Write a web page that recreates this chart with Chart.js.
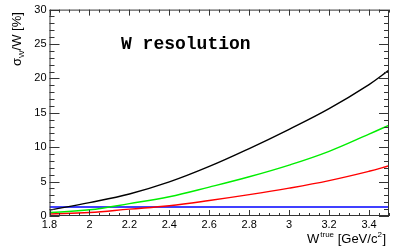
<!DOCTYPE html>
<html>
<head>
<meta charset="utf-8">
<script src="https://cdn.jsdelivr.net/npm/chart.js@4"></script>
<style>
  html, body { margin: 0; padding: 0; background: #fff; }
  #box { width: 405px; height: 249px; }
</style>
</head>
<body>
<div id="box"><canvas id="myChart"></canvas></div>
<script>
// W true values (GeV/c^2)
var wTrue   = [1.8, 2.0, 2.2, 2.4, 2.6, 2.8, 3.0, 3.2, 3.4, 3.5];
// resolution curves [%]
var black   = [0.85, 1.95, 3.2, 4.95, 7.2, 9.8, 12.6, 15.6, 19.1, 21.2];
var green   = [0.5, 0.9, 1.8, 2.8, 4.2, 5.7, 7.4, 9.4, 11.9, 13.2];
var red     = [0.3, 0.5, 1.0, 1.5, 2.25, 3.1, 4.05, 5.15, 6.5, 7.3];
var blue    = [1.3, 1.3];
var blueX   = [1.8, 3.5];

var xTicks  = [1.8, 2.0, 2.2, 2.4, 2.6, 2.8, 3.0, 3.2, 3.4];
var yTicks  = [0, 5, 10, 15, 20, 25, 30];

function pts(xs, ys) {
    var out = [];
    for (var i = 0; i < xs.length; i++) {
        out.push({ x: xs[i], y: ys[i] });
    }
    return out;
}

function line(label, xs, ys, color) {
    return {
        label: label,
        data: pts(xs, ys),
        borderColor: color,
        borderWidth: 1.4,
        pointRadius: 0,
        fill: false,
        tension: 0.4
    };
}

// ROOT-like frame: inward major/minor ticks on all 4 sides + text
var rootFrame = {
    id: 'rootFrame',
    afterDatasetsDraw: function (chart) {
        var ctx = chart.ctx;
        var a = chart.chartArea;
        var xs = chart.scales.x, ys = chart.scales.y;
        ctx.save();
        ctx.strokeStyle = '#333';
        ctx.lineWidth = 1;
        ctx.strokeRect(a.left + 0.5, a.top + 0.5, a.right - a.left - 1, a.bottom - a.top - 1);

        ctx.beginPath();
        // x ticks every 0.05, major every 0.2
        for (var i = 0; i <= 34; i++) {
            var v = 1.8 + i * 0.05;
            var px = Math.round(xs.getPixelForValue(v)) + 0.5;
            var len = (i % 4 === 0) ? 6 : 3;
            ctx.moveTo(px, a.bottom); ctx.lineTo(px, a.bottom - len);
            ctx.moveTo(px, a.top); ctx.lineTo(px, a.top + len);
        }
        // y ticks every 1, major every 5
        for (var j = 0; j <= 30; j++) {
            var py = Math.round(ys.getPixelForValue(j)) + 0.5;
            var l2 = (j % 5 === 0) ? 10 : 5;
            ctx.moveTo(a.left, py); ctx.lineTo(a.left + l2, py);
            ctx.moveTo(a.right, py); ctx.lineTo(a.right - l2, py);
        }
        ctx.stroke();

        // label inside the plot
        ctx.fillStyle = '#000';
        ctx.font = 'bold 18px "Liberation Mono", "DejaVu Sans Mono", monospace';
        ctx.textBaseline = 'alphabetic';
        ctx.fillText('W resolution', 121, 49);

        // x title: W^true [GeV/c^2], right aligned
        ctx.font = '13px "Liberation Sans", Arial, sans-serif';
        var x0 = 307, yb = 243;
        ctx.fillText('W', x0, yb);
        var w = ctx.measureText('W').width;
        ctx.font = '8px "Liberation Sans", Arial, sans-serif';
        ctx.fillText('true', x0 + w + 1, yb - 6);
        var w2 = ctx.measureText('true').width;
        ctx.font = '13px "Liberation Sans", Arial, sans-serif';
        var t = ' [GeV/c';
        ctx.fillText(t, x0 + w + w2 + 1, yb);
        var w3 = ctx.measureText(t).width;
        ctx.font = '8px "Liberation Sans", Arial, sans-serif';
        ctx.fillText('2', x0 + w + w2 + w3 + 1, yb - 6);
        ctx.font = '13px "Liberation Sans", Arial, sans-serif';
        ctx.fillText(']', x0 + w + w2 + w3 + 6, yb);

        // y title: sigma_W/W [%], rotated, top aligned
        ctx.translate(21, 66);
        ctx.rotate(-Math.PI / 2);
        ctx.font = '13px "Liberation Sans", Arial, sans-serif';
        ctx.fillText('\u03c3', 0, 0);
        var s1 = ctx.measureText('\u03c3').width;
        ctx.font = '8px "Liberation Sans", Arial, sans-serif';
        ctx.fillText('W', s1, 3);
        var s2 = ctx.measureText('W').width;
        ctx.font = '13px "Liberation Sans", Arial, sans-serif';
        ctx.fillText('/W [%]', s1 + s2, 0);
        ctx.restore();
    }
};

const el = document.getElementById('myChart');

new Chart(el, {
    type: 'line',
    data: {
        datasets: [
            line('black', wTrue, black, '#000'),
            line('green', wTrue, green, '#00ee00'),
            line('red', wTrue, red, '#ff0000'),
            line('blue', blueX, blue, '#0000ff')
        ]
    },
    options: {
        responsive: true,
        maintainAspectRatio: false,
        animation: false,
        layout: { padding: { top: 9.5, right: 16, left: 0, bottom: 0 } },
        plugins: { legend: { display: false }, tooltip: { enabled: false } },
        scales: {
            x: {
                type: 'linear',
                min: 1.8,
                max: 3.5,
                afterBuildTicks: function (s) {
                    s.ticks = xTicks.map(function (v) { return { value: v }; });
                },
                afterFit: function (s) { s.height = 33; },
                grid: { display: false, drawTicks: false },
                border: { display: false },
                ticks: {
                    padding: 2,
                    maxRotation: 0,
                    autoSkip: false,
                    color: '#000',
                    font: { family: '"Liberation Sans", Arial, sans-serif', size: 11 },
                    callback: function (v) { return String(+v.toFixed(1)); }
                }
            },
            y: {
                min: 0,
                max: 30,
                afterBuildTicks: function (s) {
                    s.ticks = yTicks.map(function (v) { return { value: v }; });
                },
                afterFit: function (s) { s.width = 49.5; },
                grid: { display: false, drawTicks: false },
                border: { display: false },
                ticks: {
                    padding: 3,
                    color: '#000',
                    font: { family: '"Liberation Sans", Arial, sans-serif', size: 11 }
                }
            }
        }
    },
    plugins: [rootFrame]
});
</script>
</body>
</html>
